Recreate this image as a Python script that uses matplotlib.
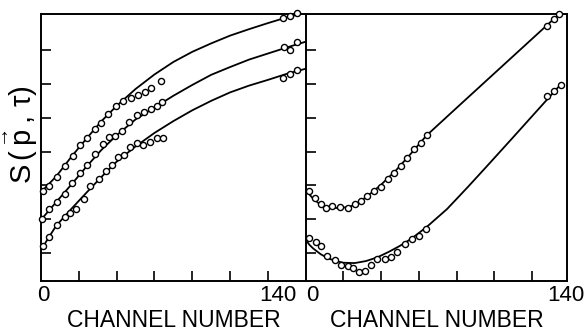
import numpy as np
import matplotlib.pyplot as plt

plt.rcParams['font.family'] = ['Liberation Sans', 'DejaVu Sans']
plt.rcParams['mathtext.fontset'] = 'custom'
plt.rcParams['mathtext.rm'] = 'Liberation Sans'
plt.rcParams['mathtext.it'] = 'Liberation Sans'

# ---- left panel: measured points (channel, S)
l1_x = [0.9, 4.5, 8.5, 12.7, 16.7, 20.4, 24.3, 28.5, 31.7, 35.5, 39.6, 43.4, 47.4, 51.3, 54.9, 58.2, 63.5, 128.0, 131.6, 135.5]
l1_y = [1.82, 1.97, 2.26, 2.56, 2.87, 3.20, 3.40, 3.66, 3.84, 4.11, 4.35, 4.51, 4.58, 4.66, 4.76, 4.89, 5.08, 6.96, 7.02, 7.09]
l2_x = [0.4, 4.2, 8.5, 12.7, 16.5, 20.6, 24.4, 28.5, 32.8, 35.9, 39.1, 43.0, 46.6, 50.9, 54.7, 58.0, 61.4, 64.2, 128.4, 131.6, 135.5]
l2_y = [1.00, 1.29, 1.50, 1.73, 2.08, 2.37, 2.60, 2.93, 3.21, 3.43, 3.46, 3.61, 3.88, 4.08, 4.16, 4.26, 4.36, 4.46, 6.10, 6.00, 6.25]
l3_x = [1.2, 4.4, 8.6, 12.7, 15.3, 18.5, 22.6, 26.0, 30.6, 34.3, 37.5, 40.8, 43.7, 47.0, 51.0, 54.2, 57.8, 61.2, 64.3, 128.0, 131.6, 135.3]
l3_y = [0.21, 0.48, 0.82, 1.07, 1.19, 1.29, 1.61, 1.97, 2.20, 2.42, 2.61, 2.84, 2.91, 3.14, 3.24, 3.18, 3.29, 3.41, 3.41, 5.18, 5.29, 5.41]

# left panel: fitted curves
l1_fit_x = [0, 8, 16, 24, 32, 40, 50, 60, 70, 80, 90, 100, 110, 120, 130, 137]
l1_fit_y = [1.8, 2.26, 2.84, 3.38, 3.9, 4.35, 4.85, 5.28, 5.65, 5.95, 6.2, 6.43, 6.62, 6.8, 6.97, 7.07]
l2_fit_x = [0, 8, 16, 24, 32, 40, 50, 60, 70, 80, 90, 100, 110, 120, 130, 140]
l2_fit_y = [0.98, 1.5, 2.02, 2.55, 3.05, 3.48, 3.95, 4.3, 4.65, 4.97, 5.27, 5.5, 5.72, 5.9, 6.08, 6.25]
l3_fit_x = [0, 4, 8, 16, 24, 32, 40, 50, 60, 70, 80, 90, 100, 110, 120, 130, 140]
l3_fit_y = [0.08, 0.45, 0.8, 1.3, 1.78, 2.25, 2.7, 3.15, 3.55, 3.9, 4.22, 4.5, 4.75, 4.95, 5.12, 5.3, 5.45]

# ---- right panel: measured points
r1_x = [1.9, 4.9, 8.0, 10.8, 14.1, 18.2, 22.6, 26.2, 29.2, 32.4, 36.2, 39.9, 43.8, 47.0, 50.4, 53.6, 57.5, 61.0, 64.2, 127.8, 131.9, 134.5]
r1_y = [1.84, 1.63, 1.44, 1.34, 1.39, 1.37, 1.34, 1.45, 1.55, 1.68, 1.84, 1.96, 2.18, 2.36, 2.58, 2.80, 3.07, 3.26, 3.49, 6.71, 6.91, 7.07]
r2_x = [1.9, 5.3, 8.0, 11.5, 15.5, 18.7, 22.3, 25.3, 28.4, 31.6, 34.6, 38.0, 42.2, 45.3, 48.6, 52.7, 56.2, 60.3, 63.8, 127.8, 131.9, 135.4]
r2_y = [0.43, 0.33, 0.21, -0.09, -0.21, -0.36, -0.39, -0.45, -0.57, -0.53, -0.36, -0.19, -0.19, -0.13, 0.02, 0.26, 0.41, 0.51, 0.70, 4.64, 4.80, 4.97]

# right panel: fitted curves
r1_fit_x = [0, 4, 8, 12, 16, 20, 24, 28, 32, 36, 40, 48, 56, 64, 80, 100, 120, 134.5]
r1_fit_y = [1.86, 1.6, 1.42, 1.35, 1.33, 1.34, 1.38, 1.49, 1.65, 1.83, 2.02, 2.45, 2.95, 3.47, 4.29, 5.31, 6.33, 7.07]
r2_fit_x = [0, 2, 4, 8, 12, 16, 20, 26, 32, 38, 44, 50, 56, 64, 75, 86, 97, 110, 120, 135.5]
r2_fit_y = [0.38, 0.24, 0.13, -0.04, -0.16, -0.24, -0.29, -0.30, -0.24, -0.13, 0.03, 0.21, 0.42, 0.76, 1.3, 1.95, 2.62, 3.42, 4.04, 5.0]

fig = plt.figure(figsize=(5.87, 3.33), dpi=100)
ax_l = fig.add_axes([0.0698, 0.1562, 0.451, 0.8018])
ax_r = fig.add_axes([0.5208, 0.1562, 0.4451, 0.8018])

mk = dict(ls="none", marker="o", ms=4.4, mfc="white", mec="black", mew=1.0, clip_on=False, zorder=3)
ln = dict(color="black", lw=1.3, zorder=2)

for fx, fy in [(l1_fit_x, l1_fit_y), (l2_fit_x, l2_fit_y), (l3_fit_x, l3_fit_y)]:
    ax_l.plot(fx, fy, **ln)
for px, py in [(l1_x, l1_y), (l2_x, l2_y), (l3_x, l3_y)]:
    ax_l.plot(px, py, **mk)

for fx, fy in [(r1_fit_x, r1_fit_y), (r2_fit_x, r2_fit_y)]:
    ax_r.plot(fx, fy, **ln)
for px, py in [(r1_x, r1_y), (r2_x, r2_y)]:
    ax_r.plot(px, py, **mk)

ax_l.set_xlim(0, 140)
ax_r.set_xlim(0, 138.6)

for ax in (ax_l, ax_r):
    ax.set_ylim(-0.83, 7.07)
    ax.set_xticks([])
    ax.set_xticks(np.arange(20, 140, 20), minor=True)
    ax.set_yticks(np.arange(0, 7))
    ax.set_yticklabels([])
    ax.tick_params(which="both", direction="in", length=7, width=1.2)
    for s in ax.spines.values():
        s.set_linewidth(1.4)
    ax.set_xlabel("CHANNEL NUMBER", fontsize=16.5, labelpad=17)

ax_l.spines["right"].set_visible(False)

# tick labels at the channel ends
lbl = dict(xycoords=("data", "axes fraction"), textcoords="offset points", va="top", fontsize=16)
ax_l.annotate("0", xy=(0, 0), xytext=(1.5, -3), ha="center", **lbl)
ax_l.annotate("140", xy=(140, 0), xytext=(-6.5, -3), ha="right", **lbl)
ax_r.annotate("0", xy=(0, 0), xytext=(4.5, -3), ha="center", **lbl)
ax_r.annotate("140", xy=(140, 0), xytext=(-3, -3), ha="center", **lbl)

ax_l.set_ylabel(r"S$\,(\overset{\rightarrow}{\mathrm{p}},\,\tau)$", fontsize=21, va="center")
ax_l.yaxis.set_label_coords(-0.0756, 0.55)

fig.savefig("out.png", dpi=100)
